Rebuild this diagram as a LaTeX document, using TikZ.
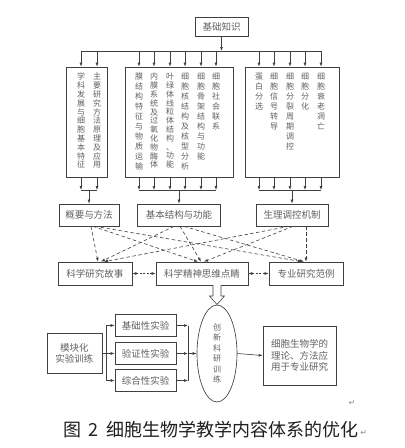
\documentclass[tikz,border=0pt]{standalone}
\usepackage{fontspec}
\usetikzlibrary{arrows.meta,shapes.geometric,calc}
\newfontfamily\cjk{Noto Sans CJK SC}
\newfontfamily\djv{DejaVu Sans}
\begin{document}
\begin{tikzpicture}[x=1pt,y=-1pt,
  lc/.style={draw=black!75, line width=0.65pt},
  bx/.style={lc, rectangle, inner sep=0pt, font=\cjk\fontsize{9.5}{11.5}\selectfont, text=black!62, align=center},
  vcol/.style={anchor=north, inner sep=0pt, align=center, text=black!62, font=\cjk\fontsize{8}{9.9}\selectfont},
  vcolt/.style={vcol, font=\cjk\fontsize{8}{8.8}\selectfont},
  arrw/.style={draw=black!75, line width=0.6pt, -{Latex[length=4pt,width=3pt]}},
  bus/.style={draw=black!75, line width=0.6pt},
  dsh/.style={arrw, dash pattern=on 3.5pt off 2.5pt},
  ddsh/.style={draw=black!75, line width=0.6pt, dash pattern=on 2pt off 1.5pt, {Latex[length=4pt,width=3pt]}-{Latex[length=4pt,width=3pt]}},
]
\useasboundingbox (0,0) rectangle (405,448);
\fill[white] (0,0) rectangle (405,448);

% top
\node[bx, minimum width=53, minimum height=19] (base) at (221.5,27) {基础知识};
\coordinate (tb) at (221.5,51);
\coordinate (bb) at (0,190);

\node[bx, minimum width=41, minimum height=110] (L) at (86.5,122) {};
\node[bx, minimum width=108, minimum height=110] (M) at (179,122) {};
\node[bx, minimum width=94, minimum height=110] (R) at (292,122) {};

\node[vcolt] (l1) at (81,73) {学\\科\\发\\展\\与\\细\\胞\\基\\本\\特\\征};
\node[vcolt] (l2) at (97,73) {主\\要\\研\\究\\方\\法\\原\\理\\及\\应\\用};
\node[vcol] (m1) at (139,73) {膜\\结\\构\\特\\征\\与\\物\\质\\运\\输};
\node[vcolt] (m2) at (154,73) {内\\膜\\系\\统\\及\\过\\氧\\化\\物\\酶\\体};
\node[vcolt] (m3) at (170,73) {叶\\绿\\体\\线\\粒\\体\\结\\构\\、\\功\\能};
\node[vcol] (m4) at (185,73) {细\\胞\\核\\结\\构\\及\\核\\型\\分\\析};
\node[vcol] (m5) at (201,73) {细\\胞\\骨\\架\\结\\构\\与\\功\\能};
\node[vcol] (m6) at (216,73) {细\\胞\\社\\会\\联\\系};
\node[vcol] (r1) at (259,73) {蛋\\白\\分\\选};
\node[vcol] (r2) at (274,73) {细\\胞\\信\\号\\转\\导};
\node[vcol] (r3) at (290,73) {细\\胞\\分\\裂\\周\\期\\调\\控};
\node[vcol] (r4) at (305,73) {细\\胞\\分\\化};
\node[vcol] (r5) at (321,73) {细\\胞\\衰\\老\\凋\\亡};

\draw[arrw] (base.south) -- (tb);
\draw[bus] (l1 |- tb) -- (r5 |- tb);
\foreach \cn in {l1,l2,m1,m2,m3,m4,m5,m6,r1,r2,r3,r4,r5}
  \draw[arrw] (\cn |- tb) -- (\cn |- L.north);

\foreach \cn in {l1,l2} \draw[arrw] (\cn |- L.south) -- (\cn |- bb);
\foreach \cn in {m1,m2,m3,m4,m5,m6} \draw[arrw] (\cn |- M.south) -- (\cn |- bb);
\foreach \cn in {r1,r2,r3,r4,r5} \draw[arrw] (\cn |- R.south) -- (\cn |- bb);
\draw[bus] (l1 |- bb) -- (l2 |- bb);
\draw[bus] (m1 |- bb) -- (m6 |- bb);
\draw[bus] (r1 |- bb) -- (r5 |- bb);

% row 2
\node[bx, minimum width=60, minimum height=22] (g1) at (89,215) {概要与方法};
\node[bx, minimum width=83, minimum height=22] (g2) at (179,215) {基本结构与功能};
\node[bx, minimum width=72, minimum height=22] (g3) at (292,215) {生理调控机制};
\draw[arrw] (g1 |- bb) -- (g1.north);
\draw[arrw] (g2 |- bb) -- (g2.north);
\draw[arrw] (g3 |- bb) -- (g3.north);

% row 3
\node[bx, minimum width=74, minimum height=23] (s1) at (95,273.5) {科学研究故事};
\node[bx, minimum width=92, minimum height=23] (s2) at (202,273.5) {科学精神思维点睛};
\node[bx, minimum width=74, minimum height=23] (s3) at (306,273.5) {专业研究范例};

\draw[dsh] ($(g1.south)+(2,0)$) -- ($(s1.north)+(3,0)$);
\draw[dsh] ($(g1.south)+(4,0)$) -- ($(s2.north)+(-4,0)$);
\draw[dsh] ($(g1.south)+(6,0)$) -- ($(s3.north)+(-4,0)$);
\draw[dsh] ($(g2.south)+(-5,0)$) -- ($(s1.north)+(6,0)$);
\draw[dsh] ($(g2.south)+(1,0)$) -- ($(s2.north)+(-1,0)$);
\draw[dsh] ($(g2.south)+(5,0)$) -- ($(s3.north)+(-2,0)$);
\draw[dsh] ($(g3.south)+(-3,0)$) -- ($(s1.north)+(9,0)$);
\draw[dsh] ($(g3.south)+(1,0)$) -- ($(s2.north)+(2,0)$);
\draw[dsh] (s3.north |- g3.south) -- (s3.north);

\draw[ddsh] (s1.east) -- (s2.west);
\draw[ddsh] (s2.east) -- (s3.west);

% ellipse and hollow arrow
\node[lc, ellipse, minimum width=40, minimum height=97, inner sep=0pt, align=center,
      text=black!62, font=\cjk\fontsize{8}{10.4}\selectfont] (e) at (217,353.5)
      {创\\新\\科\\研\\训\\练};
\draw[draw=black!75, line width=0.6pt, fill=white, line join=miter]
  (213,285) -- (213,296) -- (209.5,296) -- (217,304.5) -- (224.5,296) -- (221,296) -- (221,285);

\node[bx, minimum width=73, minimum height=59] (res) at (299.5,355.5)
  {细胞生物学的\\理论、方法应\\用于专业研究};
\draw[arrw] (e.east) -- (res.west);

% left part
\node[bx, minimum width=55, minimum height=40] (mo) at (74.5,353.5) {模块化\\实验训练};
\node[bx, minimum width=61, minimum height=22] (x1) at (145.5,325.5) {基础性实验};
\node[bx, minimum width=61, minimum height=22] (x2) at (145.5,353.5) {验证性实验};
\node[bx, minimum width=61, minimum height=22] (x3) at (145.5,380.5) {综合性实验};
\coordinate (lb) at (106,353.5);
\coordinate (rb) at (188,353.5);
\draw[arrw] (mo.east) -- (x2.west);
\draw[arrw] (lb) |- (x1.west);
\draw[arrw] (lb) |- (x3.west);
\draw[arrw] (x1.east) -- (x1.east -| rb);
\draw[arrw] (x2.east) -- (x2.east -| rb);
\draw[arrw] (x3.east) -- (x3.east -| rb);
\draw[bus] (x1.east -| rb) -- (x3.east -| rb);
\draw[arrw] (rb) -- (e.west);

% caption and marks
\node[inner sep=0pt, font=\cjk\fontsize{18}{20}\selectfont, text=black!88] (cap) at (211,430)
  {图\hspace{8pt}2\hspace{8pt}细胞生物学教学内容体系的优化};
\node[anchor=west, inner sep=0pt, font=\djv\fontsize{8}{8}\selectfont, text=black!45] (ret2) at ($(cap.east)+(1,3)$) {↵};
\node[inner sep=0pt, font=\djv\fontsize{8}{8}\selectfont, text=black!45] (ret1) at (352,403) {↵};
\end{tikzpicture}
\end{document}
